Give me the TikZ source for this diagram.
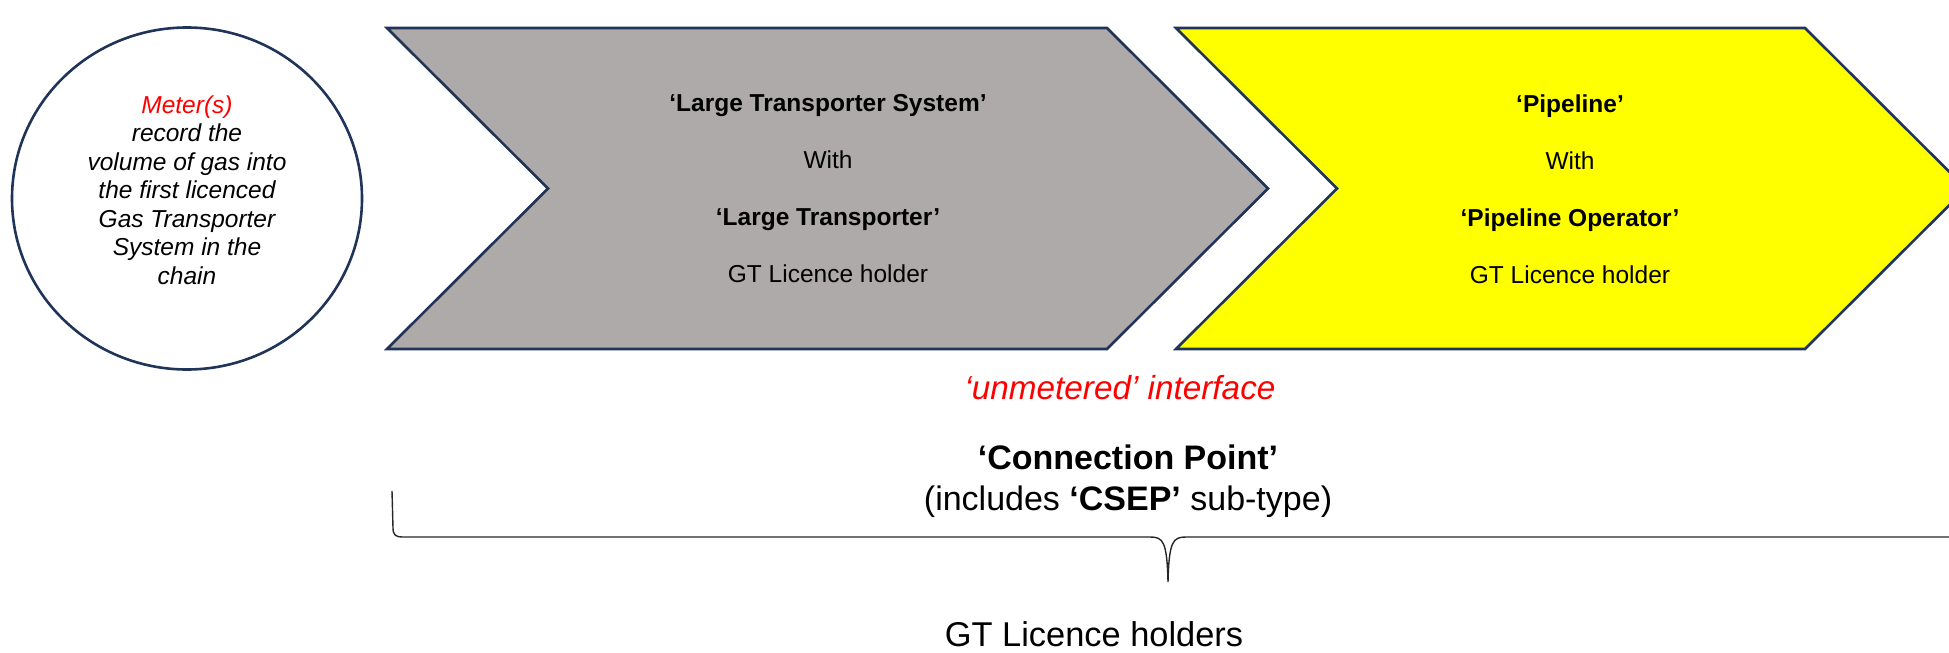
\documentclass[tikz,border=0pt]{standalone}
\usepackage{fontspec}
\setmainfont{Liberation Sans}
\definecolor{navy}{HTML}{1F3458}
\definecolor{chevgray}{HTML}{AEAAAA}
\definecolor{chevyellow}{HTML}{FFFF00}
\definecolor{mred}{HTML}{FF0000}
\tikzset{
  chev/.style={draw=navy, line width=2.6pt, line join=miter},
  bodytxt/.style={align=center, font=\fontsize{24.5}{57}\selectfont},
  circtxt/.style={align=center, font=\fontsize{24.5}{28.5}\selectfont\itshape},
  bigtxt/.style={align=center, font=\fontsize{34}{41}\selectfont},
  bracestyle/.style={draw=black!85, line width=1.4pt}
}
\begin{document}
\begin{tikzpicture}[x=1pt,y=-1pt]
\useasboundingbox (0,0) rectangle (1949,653);
\begin{scope}
\clip (0,0) rectangle (1949,653);
% circle
\draw[draw=navy, line width=2.6pt, fill=white] (187,198.5) ellipse [x radius=175, y radius=171];
\node[circtxt] (meter) at (187,190) {{\color{mred}Meter(s)}\\record the\\volume of gas into\\the first licenced\\Gas Transporter\\System in the\\chain};
% gray chevron
\draw[chev, fill=chevgray] (387,28) -- (1107,28) -- (1268,188.5) -- (1107,349) -- (387,349) -- (548,188.5) -- cycle;
\node[bodytxt] (lts) at (828,189) {\textbf{‘Large Transporter System’}\\With\\\textbf{‘Large Transporter’}\\GT Licence holder};
% yellow chevron
\draw[chev, fill=chevyellow] (1176,28) -- (1805,28) -- (1966,188.5) -- (1805,349) -- (1176,349) -- (1337,188.5) -- cycle;
\node[bodytxt] (pipe) at (1570,189) {\textbf{‘Pipeline’}\\With\\\textbf{‘Pipeline Operator’}\\GT Licence holder};
% labels
\node[font=\fontsize{33.3}{38}\selectfont\itshape, text=mred] (unm) at (1120,388) {‘unmetered’ interface};
\node[bigtxt] (cp) at (1128,481) {\textbf{‘Connection Point’}\\(includes \textbf{‘CSEP’} sub-type)};
% brace
\draw[bracestyle] (392,491) -- (393,528) .. controls (393,535) and (396,537) .. (402,537)
  -- (1150,537) .. controls (1163,537) and (1167,541) .. (1168,582)
  .. controls (1169,541) and (1173,537) .. (1186,537) -- (1960,537);
\coordinate (bracetip) at (1168,582);
\node[font=\fontsize{34.4}{40}\selectfont] (gth) at (1094,634) {GT Licence holders};
\end{scope}
\end{tikzpicture}
\end{document}
